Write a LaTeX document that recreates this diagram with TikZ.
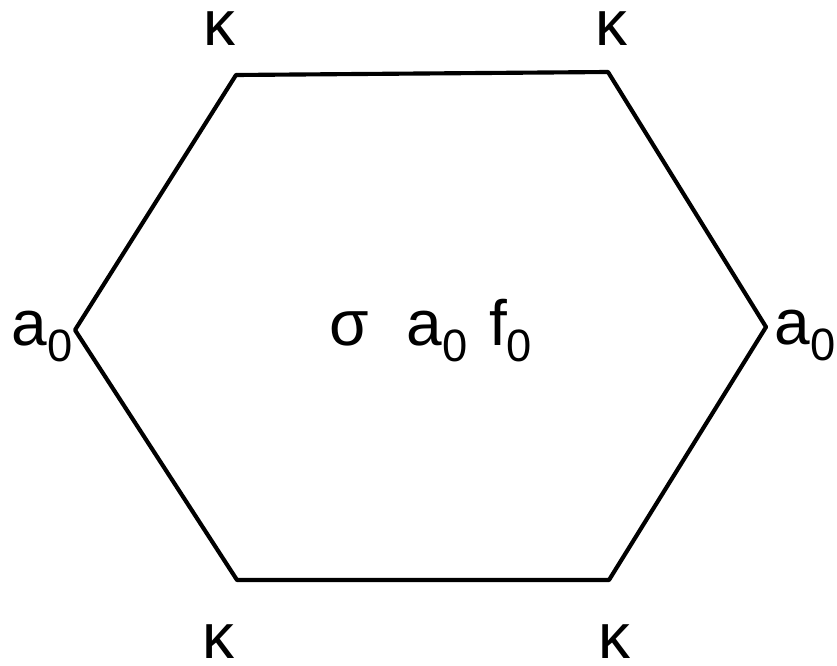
\documentclass[tikz,border=0pt]{standalone}
\usepackage{fontspec}
\setmainfont{Liberation Sans}
\newcommand\lowsub[1]{\raisebox{-0.25em}{\fontsize{34}{36}\selectfont #1}}
\begin{document}
\begin{tikzpicture}[x=0.75pt,y=-0.75pt,
  lbl/.style={font=\fontsize{48}{52}\selectfont, inner sep=0pt, anchor=base},
  edge/.style={line width=3.1pt, line join=round}]
\useasboundingbox (0,0) rectangle (837,666);
\coordinate (tl) at (236,75);
\coordinate (tr) at (608,72);
\coordinate (r) at (766,327);
\coordinate (br) at (609,580);
\coordinate (bl) at (237,580);
\coordinate (l) at (75,330);
\draw[edge] (tl) -- (tr) -- (r) -- (br) -- (bl) -- (l) -- cycle;
\node[lbl] (k1) at (219,46) {κ};
\node[lbl] (k2) at (611,46) {κ};
\node[lbl] (k3) at (218,658) {κ};
\node[lbl] (k4) at (614,658) {κ};
\node[lbl] (al) at (42,345) {a\lowsub0};
\node[lbl] (ar) at (805,344) {a\lowsub0};
\node[lbl] (c) at (431,345) {σ\hspace{0.58em}a\lowsub0\hspace{0.34em}f\lowsub0};
\end{tikzpicture}
\end{document}
